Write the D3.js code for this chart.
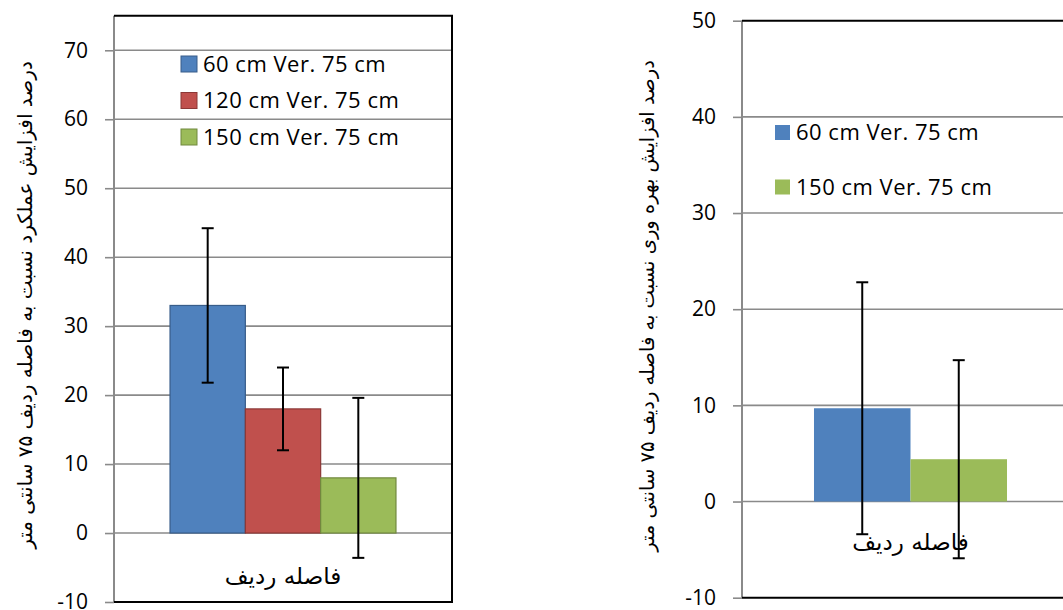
<!DOCTYPE html>
<html>
<head>
<meta charset="utf-8">
<script src="https://cdn.jsdelivr.net/npm/d3@7"></script>
<style>
  html, body { margin: 0; padding: 0; background: #fff; }
  svg { display: block; }
  .num { font-family: "Open Sans", Lato, sans-serif; fill: #000; }
  .fa { font-family: "DejaVu Sans", "Noto Sans", sans-serif; fill: #000; }
</style>
</head>
<body>
<svg id="chart" width="1063" height="610"></svg>
<script>
// Category shared by both panels
const categories = ["فاصله ردیف"];

// Panel 1: percent yield increase relative to 75 cm row spacing
const yieldSeries = ["60 cm Ver. 75 cm", "120 cm Ver. 75 cm", "150 cm Ver. 75 cm"];
const yieldValues = [33.0, 18.0, 8.0];
const yieldErrors = [11.2, 6.0, 11.6];
const yieldTicks = [-10, 0, 10, 20, 30, 40, 50, 60, 70];
const yieldTitle = "درصد افزایش عملکرد نسبت به فاصله ردیف ۷۵ سانتی متر";

// Panel 2: percent water productivity increase relative to 75 cm row spacing
const wpSeries = ["60 cm Ver. 75 cm", "150 cm Ver. 75 cm"];
const wpValues = [9.7, 4.4];
const wpErrors = [13.1, 10.3];
const wpTicks = [-10, 0, 10, 20, 30, 40, 50];
const wpTitle = "درصد افزایش بهره وری نسبت به فاصله ردیف ۷۵ سانتی متر";

const seriesColor = {
  "60 cm Ver. 75 cm":  { fill: "#4F81BD", stroke: "#385D8A" },
  "120 cm Ver. 75 cm": { fill: "#C0504D", stroke: "#8C3836" },
  "150 cm Ver. 75 cm": { fill: "#9BBB59", stroke: "#71893F" }
};

const svg = d3.select("#chart");
const gridColor = "#8a8a8a";
const numFont = "22px";

function drawPanel(opt) {
  const g = svg.append("g");
  const { x0, x1, yTop, yBot } = opt;

  const y = d3.scaleLinear().domain(opt.domain).range([yBot, yTop]);
  const xCat = d3.scaleBand().domain(categories).range([x0, x1])
    .paddingInner(0).paddingOuter(opt.outerPad);
  const xSer = d3.scaleBand().domain(opt.series).range([0, xCat.bandwidth()]);

  // horizontal gridlines
  g.append("g").selectAll("line").data(opt.ticks.filter(t => t !== opt.domain[0] && t !== opt.domain[1]))
    .join("line")
    .attr("x1", x0).attr("x2", x1)
    .attr("y1", d => y(d)).attr("y2", d => y(d))
    .attr("stroke", gridColor).attr("stroke-width", 1.6);

  // left axis with outward ticks; plain hyphen for negatives
  const axis = d3.axisLeft(y).tickValues(opt.ticks).tickSize(9).tickPadding(17)
    .tickFormat(d => String(d));
  const ag = g.append("g").attr("transform", `translate(${x0},0)`).call(axis);
  ag.select(".domain").remove();
  ag.selectAll(".tick line").attr("stroke", gridColor).attr("stroke-width", 1.6);
  ag.selectAll(".tick text").attr("class", "num").style("font-size", "21px")
    .attr("fill", "#000");
  g.append("line").attr("x1", x0).attr("x2", x0).attr("y1", yTop).attr("y2", yBot)
    .attr("stroke", gridColor).attr("stroke-width", 2);

  // frame: top, right, bottom
  g.append("line").attr("x1", x0).attr("x2", x1 + 1).attr("y1", yTop).attr("y2", yTop)
    .attr("stroke", "#000").attr("stroke-width", 2);
  g.append("line").attr("x1", x0).attr("x2", x1 + 1).attr("y1", yBot).attr("y2", yBot)
    .attr("stroke", "#000").attr("stroke-width", 2);
  if (opt.rightBorder) {
    g.append("line").attr("x1", x1).attr("x2", x1).attr("y1", yTop).attr("y2", yBot)
      .attr("stroke", "#000").attr("stroke-width", 2);
  }

  // bars
  const cat = categories[0];
  const bars = opt.series.map((s, i) => ({ s, v: opt.values[i], e: opt.errors[i] }));
  g.append("g").selectAll("rect").data(bars).join("rect")
    .attr("x", d => xCat(cat) + xSer(d.s))
    .attr("width", xSer.bandwidth())
    .attr("y", d => y(Math.max(0, d.v)))
    .attr("height", d => Math.abs(y(d.v) - y(0)))
    .attr("fill", d => seriesColor[d.s].fill)
    .attr("stroke", d => opt.barBorder ? seriesColor[d.s].stroke : "none")
    .attr("stroke-width", 1.2);

  // category label
  g.append("text").attr("class", "fa")
    .attr("x", xCat(cat) + xCat.bandwidth() / 2)
    .attr("y", opt.catLabelY)
    .attr("text-anchor", "middle")
    .attr("direction", "rtl")
    .style("font-size", "23px")
    .text(cat);

  // error bars
  const eg = g.append("g").attr("stroke", "#000").attr("stroke-width", 2);
  bars.forEach(d => {
    const cx = xCat(cat) + xSer(d.s) + xSer.bandwidth() / 2;
    const yHi = y(d.v + d.e), yLo = y(d.v - d.e);
    eg.append("line").attr("x1", cx).attr("x2", cx).attr("y1", yHi).attr("y2", yLo);
    eg.append("line").attr("x1", cx - 6).attr("x2", cx + 6).attr("y1", yHi).attr("y2", yHi);
    eg.append("line").attr("x1", cx - 6).attr("x2", cx + 6).attr("y1", yLo).attr("y2", yLo);
  });

  // legend
  const lg = g.append("g");
  opt.legend.forEach((s, i) => {
    const cy = opt.legendY + i * opt.legendStep;
    if (!s) return;
    lg.append("rect")
      .attr("x", opt.legendX).attr("y", cy - opt.swatch / 2)
      .attr("width", opt.swatch).attr("height", opt.swatch)
      .attr("fill", seriesColor[s].fill)
      .attr("stroke", opt.barBorder ? seriesColor[s].stroke : "none");
    lg.append("text").attr("class", "num")
      .attr("x", opt.legendX + opt.swatch + 6).attr("y", cy)
      .attr("dy", "0.35em")
      .style("font-size", numFont)
      .style("letter-spacing", "0.5px")
      .text(s);
  });

  // rotated y-axis title
  g.append("text").attr("class", "fa")
    .attr("transform", `translate(${opt.titleX},${opt.titleY}) rotate(-90)`)
    .attr("text-anchor", "middle")
    .attr("dy", "0.35em")
    .attr("direction", "rtl")
    .style("font-size", opt.titleSize)
    .text(opt.title);
}

drawPanel({
  x0: 114, x1: 452, yTop: 15.8, yBot: 602,
  domain: [-10, 75], ticks: yieldTicks, outerPad: 0.248,
  series: yieldSeries, values: yieldValues, errors: yieldErrors,
  legend: yieldSeries, legendX: 181, legendY: 64, legendStep: 36.5, swatch: 16,
  barBorder: true, rightBorder: true, catLabelY: 584,
  title: yieldTitle, titleX: 25, titleY: 305, titleSize: "20px"
});

drawPanel({
  x0: 742, x1: 1079, yTop: 20.7, yBot: 597.7,
  domain: [-10, 50], ticks: wpTicks, outerPad: 0.373,
  series: wpSeries, values: wpValues, errors: wpErrors,
  legend: ["60 cm Ver. 75 cm", null, "150 cm Ver. 75 cm"],
  legendX: 775, legendY: 132.5, legendStep: 27.25, swatch: 15,
  barBorder: false, rightBorder: false, catLabelY: 550,
  title: wpTitle, titleX: 647, titleY: 306, titleSize: "19.5px"
});
</script>
</body>
</html>
